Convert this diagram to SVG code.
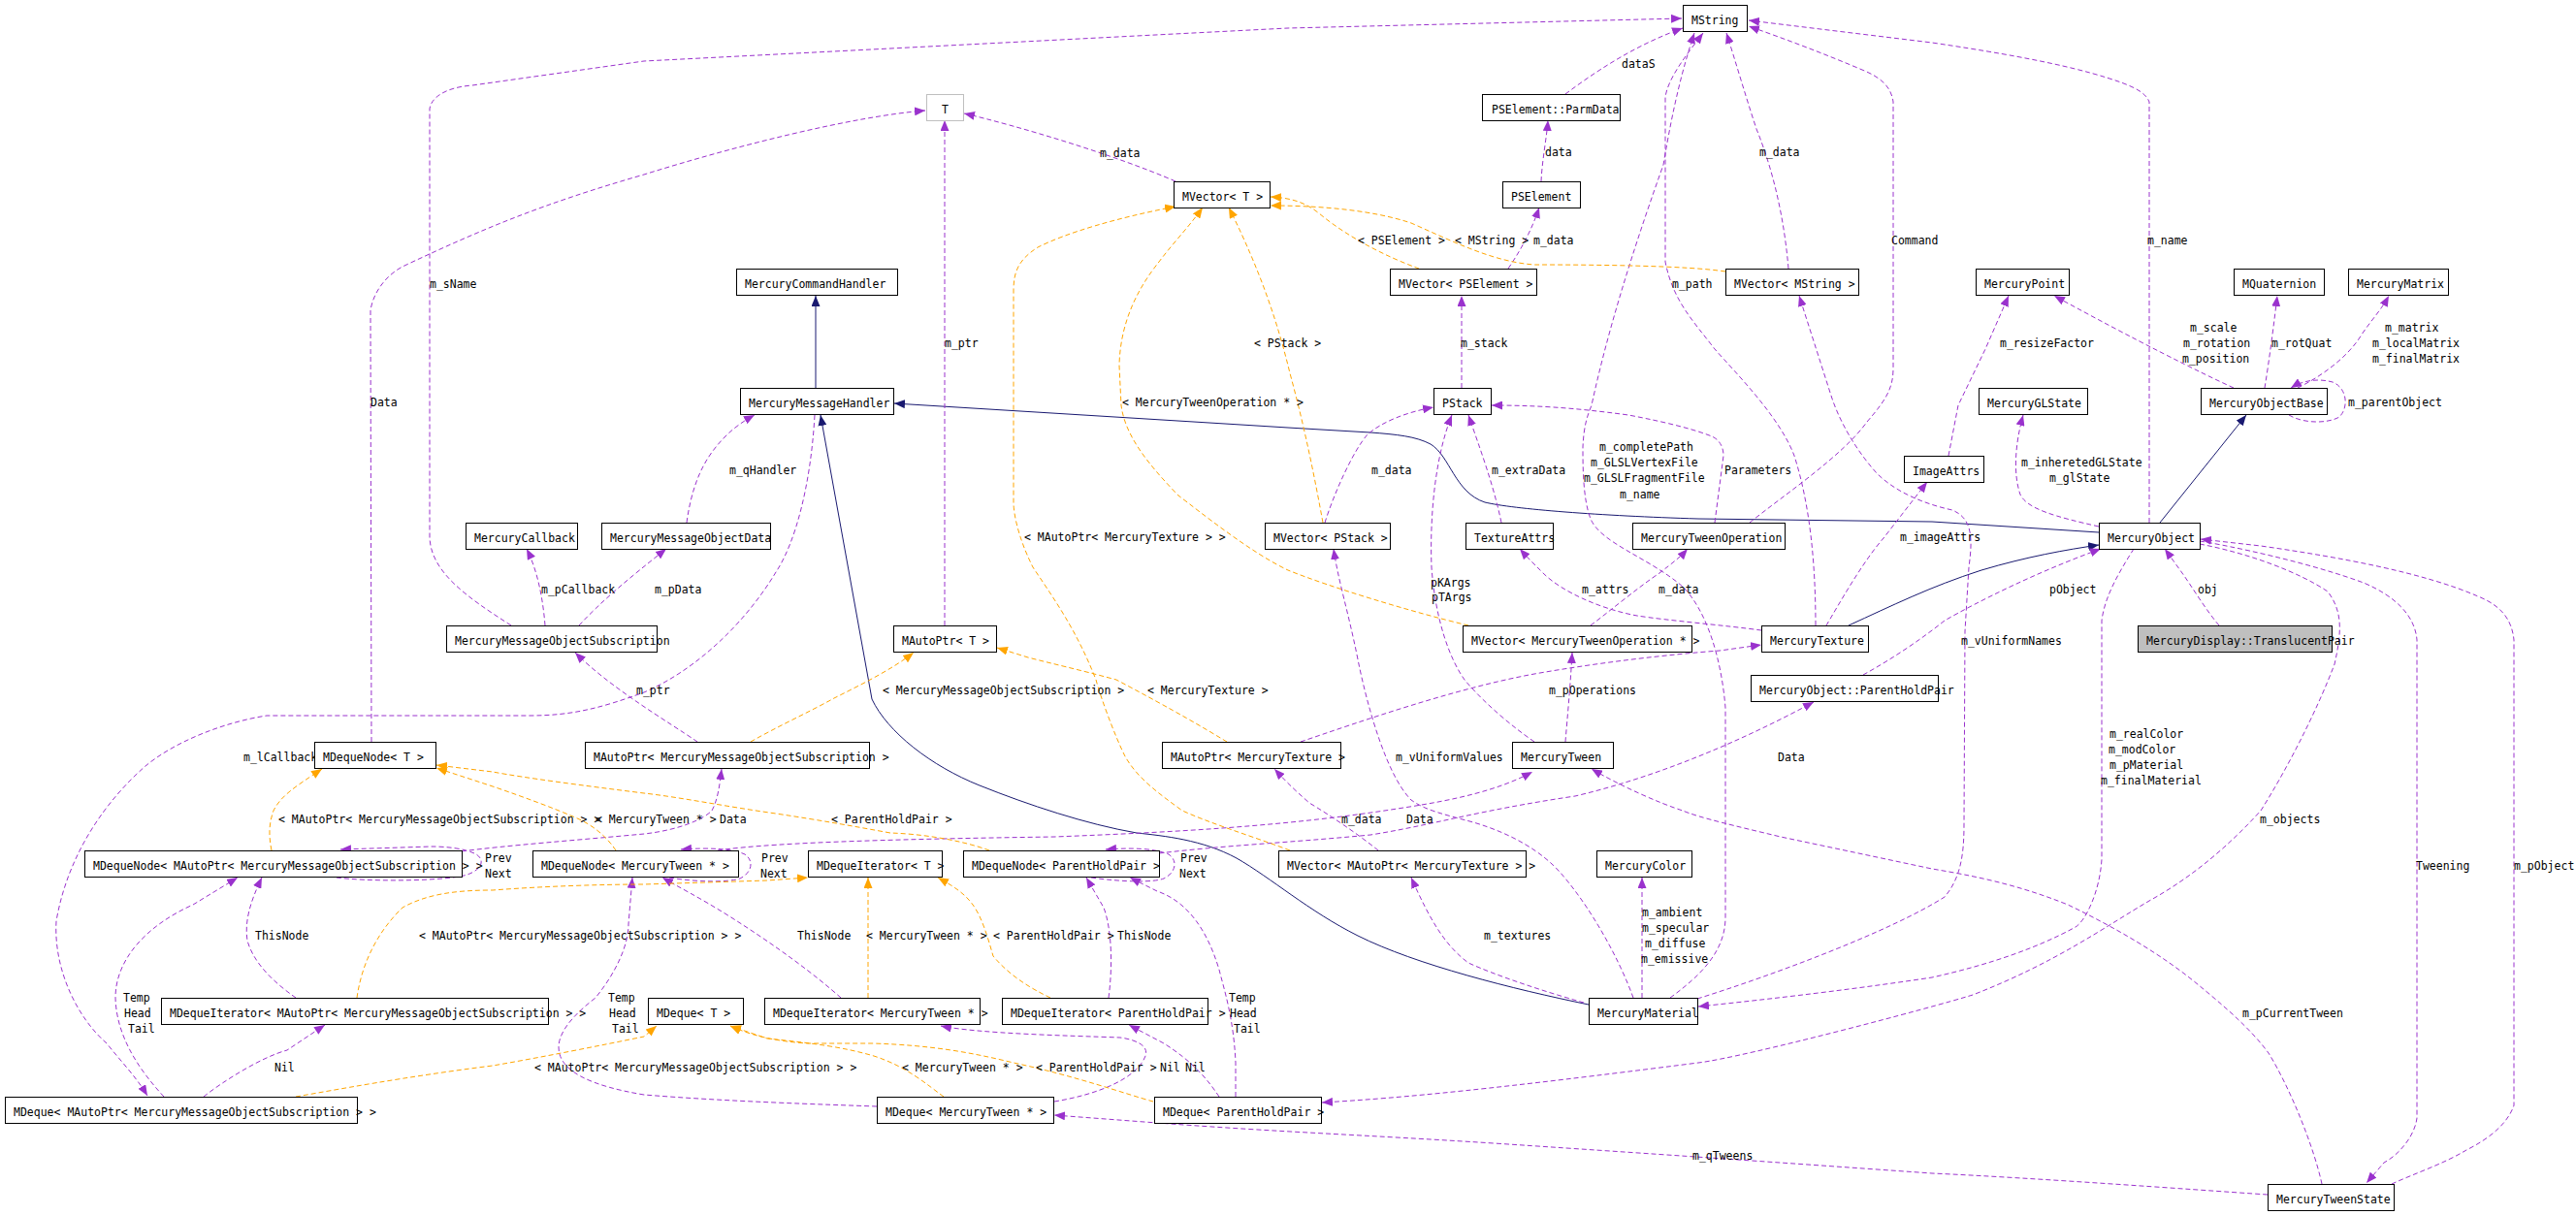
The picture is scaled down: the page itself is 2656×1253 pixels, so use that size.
<svg xmlns="http://www.w3.org/2000/svg" width="2656" height="1253" viewBox="0 0 2656 1253">
<style>
text{font-family:"DejaVu Sans Mono","Liberation Mono",monospace;font-size:11.5px;fill:#000}
.node rect{fill:#fff;stroke:#000;stroke-width:1}
.e{fill:none;stroke-width:1;stroke-dasharray:5,3}
.p{stroke:#9a32cd;marker-end:url(#ap)}
.o{stroke:#ffa500;marker-end:url(#ao)}
.n{fill:none;stroke:#191970;stroke-width:1;marker-end:url(#an)}
</style>
<defs>
<marker id="ap" markerUnits="userSpaceOnUse" markerWidth="11" markerHeight="9" refX="11" refY="4.5" orient="auto"><path d="M0,0 L11,4.5 L0,9z" fill="#9a32cd"/></marker>
<marker id="ao" markerUnits="userSpaceOnUse" markerWidth="11" markerHeight="9" refX="11" refY="4.5" orient="auto"><path d="M0,0 L11,4.5 L0,9z" fill="#ffa500"/></marker>
<marker id="an" markerUnits="userSpaceOnUse" markerWidth="11" markerHeight="9" refX="11" refY="4.5" orient="auto"><path d="M0,0 L11,4.5 L0,9z" fill="#191970"/></marker>
</defs>
<rect width="2656" height="1253" fill="#fff"/>
<g id="connectors">
<path class="n" d="M841,400 L841,305"/>
<path class="n" d="M2164,549 L1992,538 L1751,535 C1650,532 1560,525 1531,518 C1500,508 1495,470 1475,458 C1460,450 1440,448 1413,446 L1328,441 L922,416"/>
<path class="n" d="M1906,645 C1950,625 1990,605 2043,588 C2090,574 2130,567 2164,562"/>
<path class="n" d="M2227,539 L2316,428"/>
<path class="n" d="M1638,1036 C1560,1020 1460,995 1400,965 C1350,940 1310,905 1275,885 C1240,866 1200,862 1172,859 C1120,850 1060,830 1010,810 C960,790 915,755 899,721 L846,428"/>
<path class="e p" d="M527,645 C480,615 445,590 443,555 L443,112 C445,100 460,90 487,88 L664,63 L1328,29 L1734,19"/>
<path class="e p" d="M383,765 L382,320 C385,300 400,282 417,274 C500,235 560,210 664,180 C760,150 880,120 954,114"/>
<path class="e p" d="M974,645 L974,124"/>
<path class="e p" d="M1212,187 C1150,160 1050,130 994,117"/>
<path class="e p" d="M1614,97 C1650,70 1690,45 1735,29"/>
<path class="e p" d="M1589,187 C1590,165 1595,140 1596,124"/>
<path class="e p" d="M1555,277 C1570,255 1580,235 1587,214"/>
<path class="e p" d="M1507,400 L1507,305"/>
<path class="e p" d="M1844,277 C1840,230 1830,180 1811,133 C1800,100 1790,65 1780,34"/>
<path class="e p" d="M1872,645 C1872,580 1866,520 1850,470 C1835,430 1790,385 1768,360 C1745,330 1725,310 1717,270 L1717,100 C1720,80 1740,55 1756,34"/>
<path class="e p" d="M1722,1029 C1755,1005 1779,980 1779,946 L1779,730 C1775,680 1760,630 1735,605 C1700,575 1650,560 1640,535 C1632,515 1632,480 1632,461 C1633,440 1636,430 1641,418 C1660,330 1690,240 1715,170 C1725,110 1735,70 1747,34"/>
<path class="e p" d="M1804,539 C1840,510 1900,470 1925,435 C1945,412 1952,400 1952,380 L1952,105 C1950,90 1940,80 1920,72 C1880,55 1840,40 1803,27"/>
<path class="e p" d="M2216,539 L2216,105 C2212,95 2200,90 2187,85 C2150,72 2100,60 1992,44 L1803,21"/>
<path class="e p" d="M708,539 C712,510 720,485 735,465 C750,445 765,435 778,428"/>
<path class="e p" d="M562,645 C560,620 555,590 543,566"/>
<path class="e p" d="M597,645 C620,620 650,595 687,566"/>
<path class="e p" d="M719,765 C690,745 630,710 593,673"/>
<path class="e p" d="M840,428 C836,500 820,560 800,590 C770,640 720,690 664,714 C620,730 590,738 546,738 L275,738 C230,745 180,765 150,790 C110,825 70,880 58,950 C55,1000 80,1050 110,1076 C125,1095 140,1110 152,1130"/>
<path class="e p" d="M2009,470 L2019,418 L2047,360 L2071,305"/>
<path class="e p" d="M2303,400 C2270,385 2200,350 2118,305"/>
<path class="e p" d="M2335,400 C2340,370 2345,330 2348,305"/>
<path class="e p" d="M2369,400 C2390,390 2420,370 2435,345 C2445,330 2455,320 2463,305"/>
<path class="e p" d="M2360,428 C2375,437 2400,437 2412,430 C2422,420 2420,400 2405,394 C2390,390 2375,392 2362,400"/>
<path class="e p" d="M2164,543 C2120,533 2090,525 2083,510 C2076,490 2077,460 2086,428"/>
<path class="e p" d="M1883,645 C1895,625 1920,580 1942,555 L1987,497"/>
<path class="e p" d="M1816,650 C1780,645 1720,640 1688,635 C1650,628 1610,610 1591,591 C1580,580 1575,575 1567,566"/>
<path class="e p" d="M1640,645 C1660,630 1690,605 1711,591 C1725,580 1732,575 1740,566"/>
<path class="e p" d="M1768,539 L1777,470 C1777,460 1772,453 1765,450 C1740,440 1700,432 1679,428 C1620,420 1580,418 1538,418"/>
<path class="e p" d="M1366,539 C1375,510 1395,465 1410,448 C1425,435 1450,425 1478,420"/>
<path class="e p" d="M1548,539 C1540,500 1525,460 1514,428"/>
<path class="e p" d="M1582,765 C1560,750 1530,725 1510,701 C1495,680 1480,640 1476,585 C1474,530 1480,470 1497,428"/>
<path class="e p" d="M1614,765 C1616,740 1619,710 1621,673"/>
<path class="e p" d="M1341,765 C1400,745 1500,710 1582,695 C1650,683 1720,675 1773,671 L1816,665"/>
<path class="e p" d="M1633,1034 C1590,1022 1540,1005 1514,993 C1490,975 1475,950 1455,905"/>
<path class="e p" d="M1421,877 C1400,860 1370,840 1350,828 C1335,815 1325,805 1314,793"/>
<path class="e p" d="M1693,1029 L1693,905"/>
<path class="e p" d="M1684,1029 C1670,990 1640,935 1608,899 C1590,879 1560,860 1519,848 C1490,840 1470,836 1455,825 C1430,800 1410,730 1400,680 C1390,630 1380,600 1375,566"/>
<path class="e p" d="M1750,1030 C1830,1005 1950,960 2005,925 C2022,905 2025,880 2025,850 L2026,651 L2030,585 C2034,555 2034,535 2013,526 C1985,520 1955,508 1935,488 C1910,460 1895,430 1888,408 L1855,305"/>
<path class="e p" d="M2200,566 C2185,590 2170,615 2167,640 L2167,886 C2165,920 2150,950 2140,956 C2100,978 2050,995 1992,1008 C1900,1022 1800,1033 1751,1038"/>
<path class="e p" d="M2268,561 C2320,571 2370,590 2400,610 C2415,630 2415,650 2407,685 C2390,730 2360,790 2331,836 C2300,870 2263,903 2216,929 C2170,956 2119,993 2034,1026 C1992,1039 1800,1090 1751,1096 C1540,1123 1450,1132 1363,1137"/>
<path class="e p" d="M2268,558 C2300,563 2380,580 2437,601 C2470,615 2490,635 2492,660 L2492,1153 C2490,1170 2475,1190 2458,1199 L2440,1220"/>
<path class="e p" d="M2466,1221 C2490,1210 2520,1200 2543,1186 C2565,1175 2585,1160 2592,1140 L2592,660 C2590,640 2580,625 2555,615 C2500,591 2415,575 2331,563 L2269,556"/>
<path class="e p" d="M2288,645 C2275,630 2260,605 2250,591 L2232,566"/>
<path class="e p" d="M1921,696 C1950,680 1980,660 2005,640 C2040,620 2100,590 2166,566"/>
<path class="e p" d="M2394,1221 C2385,1180 2360,1120 2339,1086 C2320,1060 2290,1035 2267,1016 C2230,985 2180,956 2132,933 C2080,912 2034,903 1992,896 L1836,863 C1790,852 1751,843 1735,836 C1710,828 1670,810 1641,793"/>
<path class="e p" d="M2338,1232 C2250,1226 2100,1215 1992,1210 C1850,1200 1751,1193 1540,1179 C1400,1170 1328,1168 1193,1158 L1087,1150"/>
<path class="e p" d="M476,878 C520,872 600,866 664,860 C700,856 725,845 734,836 C740,825 742,810 744,793"/>
<path class="e p" d="M740,877 C800,868 950,865 1087,863 C1215,858 1328,852 1447,833 C1500,825 1545,815 1580,796"/>
<path class="e p" d="M1195,880 C1260,872 1330,869 1413,861 C1476,851 1523,836 1624,821 C1709,801 1794,765 1870,724"/>
<path class="e p" d="M347,905 C380,909 440,909 474,904 C495,900 502,888 491,881 C480,875 460,873 445,873 L351,876"/>
<path class="e p" d="M690,905 C720,910 750,910 763,906 C775,900 778,888 768,881 C755,875 730,874 702,876"/>
<path class="e p" d="M1125,905 C1160,910 1190,910 1200,906 C1212,900 1215,888 1205,881 C1190,875 1170,874 1140,876"/>
<path class="e p" d="M305,1029 C285,1015 262,995 255,970 C252,950 258,930 270,905"/>
<path class="e p" d="M867,1029 C840,1005 800,975 749,943 C720,925 700,915 683,905"/>
<path class="e p" d="M1143,1029 C1147,1000 1147,960 1138,936 L1120,905"/>
<path class="e p" d="M169,1131 C145,1105 120,1070 119,1029 C119,990 150,955 199,933 L245,905"/>
<path class="e p" d="M904,1141 C850,1139 750,1136 664,1129 C610,1120 576,1105 576,1080 C576,1060 600,1040 614,1029 C635,1003 648,975 648,953 L652,905"/>
<path class="e p" d="M1274,1131 L1274,1096 C1272,1050 1262,1020 1257,1000 C1245,960 1225,930 1193,919 L1165,905"/>
<path class="e p" d="M210,1131 C230,1115 270,1090 296,1083 L335,1057"/>
<path class="e p" d="M1087,1136 C1130,1129 1172,1113 1181,1089 C1185,1078 1170,1072 1155,1070 C1100,1068 1010,1066 970,1058"/>
<path class="e p" d="M1257,1131 C1245,1113 1230,1095 1200,1076 L1164,1057"/>
<path class="e o" d="M1463,277 C1430,265 1390,245 1360,220 C1345,208 1330,204 1310,203"/>
<path class="e o" d="M1779,280 C1740,274 1650,273 1582,273 C1540,270 1500,250 1455,230 C1410,215 1350,212 1310,212"/>
<path class="e o" d="M1364,539 C1355,490 1345,440 1330,385 C1318,335 1300,280 1267,214"/>
<path class="e o" d="M1514,645 C1455,631 1370,605 1328,588 C1290,570 1240,530 1215,511 C1185,480 1160,450 1156,418 L1154,377 C1155,330 1175,295 1195,270 C1210,250 1225,235 1240,214"/>
<path class="e o" d="M1330,877 C1290,862 1250,850 1219,836 C1190,815 1172,801 1160,780 C1150,760 1135,720 1130,701 C1110,650 1087,618 1065,585 C1050,555 1045,530 1045,518 L1045,300 C1045,280 1050,268 1070,255 C1100,240 1150,225 1212,213"/>
<path class="e o" d="M1265,765 C1240,750 1215,735 1151,701 C1110,690 1087,685 1060,678 L1028,668"/>
<path class="e o" d="M774,765 C800,750 833,735 860,720 C890,705 920,690 942,673"/>
<path class="e o" d="M280,877 C277,862 277,850 282,836 C290,820 305,811 332,793"/>
<path class="e o" d="M635,877 C625,862 610,850 593,843 C570,833 540,822 508,811 L450,792"/>
<path class="e o" d="M1020,877 C990,866 950,860 918,859 C880,852 846,846 800,839 C750,832 700,822 664,818 C600,810 540,802 508,796 L450,789"/>
<path class="e o" d="M368,1029 C372,1000 385,965 415,936 C440,922 470,918 508,918 C560,914 620,912 664,912 L791,908 L833,905"/>
<path class="e o" d="M895,1029 L895,905"/>
<path class="e o" d="M1083,1029 C1060,1018 1040,1005 1024,986 C1018,965 1012,945 1003,933 C995,922 985,915 967,905"/>
<path class="e o" d="M305,1131 C340,1125 420,1110 508,1099 C560,1090 620,1078 664,1069 L677,1058"/>
<path class="e o" d="M973,1131 C955,1118 935,1100 901,1089 C870,1080 840,1076 791,1071 L753,1058"/>
<path class="e o" d="M1189,1136 C1160,1128 1110,1110 1045,1096 C1000,1085 960,1078 900,1076 L833,1076 C800,1074 775,1068 753,1058"/>
</g>
<g id="labels">
<text x="443" y="297">m_sName</text>
<text x="382" y="419">Data</text>
<text x="974" y="358">m_ptr</text>
<text x="1134" y="162">m_data</text>
<text x="1672" y="70">dataS</text>
<text x="1593" y="161">data</text>
<text x="1581" y="252">m_data</text>
<text x="1400" y="252">&lt; PSElement &gt;</text>
<text x="1500" y="252">&lt; MString &gt;</text>
<text x="1506" y="358">m_stack</text>
<text x="1814" y="161">m_data</text>
<text x="1724" y="297">m_path</text>
<text x="1950" y="252">Command</text>
<text x="2214" y="252">m_name</text>
<text x="1293" y="358">&lt; PStack &gt;</text>
<text x="1157" y="419">&lt; MercuryTweenOperation * &gt;</text>
<text x="2062" y="358">m_resizeFactor</text>
<text x="2258" y="342">m_scale</text>
<text x="2251" y="358">m_rotation</text>
<text x="2250" y="374">m_position</text>
<text x="2342" y="358">m_rotQuat</text>
<text x="2459" y="342">m_matrix</text>
<text x="2446" y="358">m_localMatrix</text>
<text x="2446" y="374">m_finalMatrix</text>
<text x="2421" y="419">m_parentObject</text>
<text x="752" y="489">m_qHandler</text>
<text x="558" y="612">m_pCallback</text>
<text x="675" y="612">m_pData</text>
<text x="656" y="716">m_ptr</text>
<text x="1414" y="489">m_data</text>
<text x="1538" y="489">m_extraData</text>
<text x="1649" y="465">m_completePath</text>
<text x="1640" y="481">m_GLSLVertexFile</text>
<text x="1633" y="497">m_GLSLFragmentFile</text>
<text x="1670" y="514">m_name</text>
<text x="1778" y="489">Parameters</text>
<text x="2084" y="481">m_inheretedGLState</text>
<text x="2113" y="497">m_glState</text>
<text x="1959" y="558">m_imageAttrs</text>
<text x="1475" y="605">pKArgs</text>
<text x="1476" y="620">pTArgs</text>
<text x="1631" y="612">m_attrs</text>
<text x="1710" y="612">m_data</text>
<text x="2113" y="612">pObject</text>
<text x="2266" y="612">obj</text>
<text x="2022" y="665">m_vUniformNames</text>
<text x="1056" y="558">&lt; MAutoPtr&lt; MercuryTexture &gt; &gt;</text>
<text x="1597" y="716">m_pOperations</text>
<text x="910" y="716">&lt; MercuryMessageObjectSubscription &gt;</text>
<text x="1183" y="716">&lt; MercuryTexture &gt;</text>
<text x="251" y="785">m_lCallback</text>
<text x="1439" y="785">m_vUniformValues</text>
<text x="1833" y="785">Data</text>
<text x="2175" y="761">m_realColor</text>
<text x="2174" y="777">m_modColor</text>
<text x="2175" y="793">m_pMaterial</text>
<text x="2166" y="809">m_finalMaterial</text>
<text x="287" y="849">&lt; MAutoPtr&lt; MercuryMessageObjectSubscription &gt; &gt;</text>
<text x="614" y="849">&lt; MercuryTween * &gt;</text>
<text x="742" y="849">Data</text>
<text x="857" y="849">&lt; ParentHoldPair &gt;</text>
<text x="1383" y="849">m_data</text>
<text x="1450" y="849">Data</text>
<text x="2330" y="849">m_objects</text>
<text x="500" y="889">Prev</text>
<text x="500" y="905">Next</text>
<text x="785" y="889">Prev</text>
<text x="784" y="905">Next</text>
<text x="1217" y="889">Prev</text>
<text x="1216" y="905">Next</text>
<text x="2491" y="897">Tweening</text>
<text x="2592" y="897">m_pObject</text>
<text x="1693" y="945">m_ambient</text>
<text x="1693" y="961">m_specular</text>
<text x="1696" y="977">m_diffuse</text>
<text x="1692" y="993">m_emissive</text>
<text x="263" y="969">ThisNode</text>
<text x="432" y="969">&lt; MAutoPtr&lt; MercuryMessageObjectSubscription &gt; &gt;</text>
<text x="822" y="969">ThisNode</text>
<text x="893" y="969">&lt; MercuryTween * &gt;</text>
<text x="1024" y="969">&lt; ParentHoldPair &gt;</text>
<text x="1152" y="969">ThisNode</text>
<text x="1530" y="969">m_textures</text>
<text x="127" y="1033">Temp</text>
<text x="128" y="1049">Head</text>
<text x="132" y="1065">Tail</text>
<text x="627" y="1033">Temp</text>
<text x="628" y="1049">Head</text>
<text x="631" y="1065">Tail</text>
<text x="1267" y="1033">Temp</text>
<text x="1268" y="1049">Head</text>
<text x="1272" y="1065">Tail</text>
<text x="283" y="1105">Nil</text>
<text x="551" y="1105">&lt; MAutoPtr&lt; MercuryMessageObjectSubscription &gt; &gt;</text>
<text x="930" y="1105">&lt; MercuryTween * &gt;</text>
<text x="1068" y="1105">&lt; ParentHoldPair &gt;</text>
<text x="1196" y="1105">Nil</text>
<text x="1222" y="1105">Nil</text>
<text x="2312" y="1049">m_pCurrentTween</text>
<text x="1745" y="1196">m_qTweens</text>
</g>
<g id="nodes">
<g id="n_MString" class="node"><rect x="1735.5" y="5.5" width="66" height="27"/><text x="1744" y="25">MString</text></g>
<g id="n_T" class="node"><rect x="955.5" y="97.5" width="38" height="27" style="stroke:#bfbfbf"/><text x="971" y="117">T</text></g>
<g id="n_ParmData" class="node"><rect x="1528.5" y="97.5" width="142" height="27"/><text x="1538" y="117">PSElement::ParmData</text></g>
<g id="n_MVectorT" class="node"><rect x="1210.5" y="187.5" width="99" height="27"/><text x="1219" y="207">MVector&lt; T &gt;</text></g>
<g id="n_PSElement" class="node"><rect x="1549.5" y="187.5" width="80" height="27"/><text x="1558" y="207">PSElement</text></g>
<g id="n_MercuryCommandHandler" class="node"><rect x="759.5" y="277.5" width="166" height="27"/><text x="768" y="297">MercuryCommandHandler</text></g>
<g id="n_MVectorPSElement" class="node"><rect x="1433.5" y="277.5" width="151" height="27"/><text x="1442" y="297">MVector&lt; PSElement &gt;</text></g>
<g id="n_MVectorMString" class="node"><rect x="1779.5" y="277.5" width="137" height="27"/><text x="1788" y="297">MVector&lt; MString &gt;</text></g>
<g id="n_MercuryPoint" class="node"><rect x="2037.5" y="277.5" width="96" height="27"/><text x="2046" y="297">MercuryPoint</text></g>
<g id="n_MQuaternion" class="node"><rect x="2303.5" y="277.5" width="93" height="27"/><text x="2312" y="297">MQuaternion</text></g>
<g id="n_MercuryMatrix" class="node"><rect x="2421.5" y="277.5" width="103" height="27"/><text x="2430" y="297">MercuryMatrix</text></g>
<g id="n_MercuryMessageHandler" class="node"><rect x="763.5" y="400.5" width="158" height="27"/><text x="772" y="420">MercuryMessageHandler</text></g>
<g id="n_PStack" class="node"><rect x="1478.5" y="400.5" width="59" height="27"/><text x="1487" y="420">PStack</text></g>
<g id="n_MercuryGLState" class="node"><rect x="2040.5" y="400.5" width="112" height="27"/><text x="2049" y="420">MercuryGLState</text></g>
<g id="n_MercuryObjectBase" class="node"><rect x="2269.5" y="400.5" width="130" height="27"/><text x="2278" y="420">MercuryObjectBase</text></g>
<g id="n_ImageAttrs" class="node"><rect x="1963.5" y="470.5" width="82" height="27"/><text x="1972" y="490">ImageAttrs</text></g>
<g id="n_MercuryCallback" class="node"><rect x="480.5" y="539.5" width="115" height="27"/><text x="489" y="559">MercuryCallback</text></g>
<g id="n_MercuryMessageObjectData" class="node"><rect x="620.5" y="539.5" width="174" height="27"/><text x="629" y="559">MercuryMessageObjectData</text></g>
<g id="n_MVectorPStack" class="node"><rect x="1304.5" y="539.5" width="129" height="27"/><text x="1313" y="559">MVector&lt; PStack &gt;</text></g>
<g id="n_TextureAttrs" class="node"><rect x="1511.5" y="539.5" width="90" height="27"/><text x="1520" y="559">TextureAttrs</text></g>
<g id="n_MercuryTweenOperation" class="node"><rect x="1683.5" y="539.5" width="157" height="27"/><text x="1692" y="559">MercuryTweenOperation</text></g>
<g id="n_MercuryObject" class="node"><rect x="2164.5" y="539.5" width="104" height="27"/><text x="2173" y="559">MercuryObject</text></g>
<g id="n_MercuryMessageObjectSubscription" class="node"><rect x="460.5" y="645.5" width="217" height="27"/><text x="469" y="665">MercuryMessageObjectSubscription</text></g>
<g id="n_MAutoPtrT" class="node"><rect x="921.5" y="645.5" width="106" height="27"/><text x="930" y="665">MAutoPtr&lt; T &gt;</text></g>
<g id="n_MVectorMTO" class="node"><rect x="1508.5" y="645.5" width="236" height="27"/><text x="1517" y="665">MVector&lt; MercuryTweenOperation * &gt;</text></g>
<g id="n_MercuryTexture" class="node"><rect x="1816.5" y="645.5" width="110" height="27"/><text x="1825" y="665">MercuryTexture</text></g>
<g id="n_TranslucentPair" class="node"><rect x="2204.5" y="645.5" width="200" height="27" style="fill:#bfbfbf"/><text x="2213" y="665">MercuryDisplay::TranslucentPair</text></g>
<g id="n_ParentHoldPair" class="node"><rect x="1805.5" y="696.5" width="193" height="27"/><text x="1814" y="716">MercuryObject::ParentHoldPair</text></g>
<g id="n_MDequeNodeT" class="node"><rect x="324.5" y="765.5" width="125" height="27"/><text x="333" y="785">MDequeNode&lt; T &gt;</text></g>
<g id="n_MAutoPtrMMOS" class="node"><rect x="603.5" y="765.5" width="293" height="27"/><text x="612" y="785">MAutoPtr&lt; MercuryMessageObjectSubscription &gt;</text></g>
<g id="n_MAutoPtrMT" class="node"><rect x="1198.5" y="765.5" width="184" height="27"/><text x="1207" y="785">MAutoPtr&lt; MercuryTexture &gt;</text></g>
<g id="n_MercuryTween" class="node"><rect x="1559.5" y="765.5" width="104" height="27"/><text x="1568" y="785">MercuryTween</text></g>
<g id="n_MDequeNodeMMOS" class="node"><rect x="87.5" y="877.5" width="389" height="27"/><text x="96" y="897">MDequeNode&lt; MAutoPtr&lt; MercuryMessageObjectSubscription &gt; &gt;</text></g>
<g id="n_MDequeNodeMT" class="node"><rect x="549.5" y="877.5" width="212" height="27"/><text x="558" y="897">MDequeNode&lt; MercuryTween * &gt;</text></g>
<g id="n_MDequeIteratorT" class="node"><rect x="833.5" y="877.5" width="138" height="27"/><text x="842" y="897">MDequeIterator&lt; T &gt;</text></g>
<g id="n_MDequeNodePHP" class="node"><rect x="993.5" y="877.5" width="202" height="27"/><text x="1002" y="897">MDequeNode&lt; ParentHoldPair &gt;</text></g>
<g id="n_MVectorMAMT" class="node"><rect x="1318.5" y="877.5" width="255" height="27"/><text x="1327" y="897">MVector&lt; MAutoPtr&lt; MercuryTexture &gt; &gt;</text></g>
<g id="n_MercuryColor" class="node"><rect x="1646.5" y="877.5" width="98" height="27"/><text x="1655" y="897">MercuryColor</text></g>
<g id="n_MDequeIteratorMMOS" class="node"><rect x="166.5" y="1029.5" width="399" height="27"/><text x="175" y="1049">MDequeIterator&lt; MAutoPtr&lt; MercuryMessageObjectSubscription &gt; &gt;</text></g>
<g id="n_MDequeT" class="node"><rect x="668.5" y="1029.5" width="98" height="27"/><text x="677" y="1049">MDeque&lt; T &gt;</text></g>
<g id="n_MDequeIteratorMT" class="node"><rect x="788.5" y="1029.5" width="222" height="27"/><text x="797" y="1049">MDequeIterator&lt; MercuryTween * &gt;</text></g>
<g id="n_MDequeIteratorPHP" class="node"><rect x="1033.5" y="1029.5" width="212" height="27"/><text x="1042" y="1049">MDequeIterator&lt; ParentHoldPair &gt;</text></g>
<g id="n_MercuryMaterial" class="node"><rect x="1638.5" y="1029.5" width="112" height="27"/><text x="1647" y="1049">MercuryMaterial</text></g>
<g id="n_MDequeMMOS" class="node"><rect x="5.5" y="1131.5" width="363" height="27"/><text x="14" y="1151">MDeque&lt; MAutoPtr&lt; MercuryMessageObjectSubscription &gt; &gt;</text></g>
<g id="n_MDequeMT" class="node"><rect x="904.5" y="1131.5" width="182" height="27"/><text x="913" y="1151">MDeque&lt; MercuryTween * &gt;</text></g>
<g id="n_MDequePHP" class="node"><rect x="1190.5" y="1131.5" width="172" height="27"/><text x="1199" y="1151">MDeque&lt; ParentHoldPair &gt;</text></g>
<g id="n_MercuryTweenState" class="node"><rect x="2338.5" y="1221.5" width="130" height="27"/><text x="2347" y="1241">MercuryTweenState</text></g>
</g>
</svg>
